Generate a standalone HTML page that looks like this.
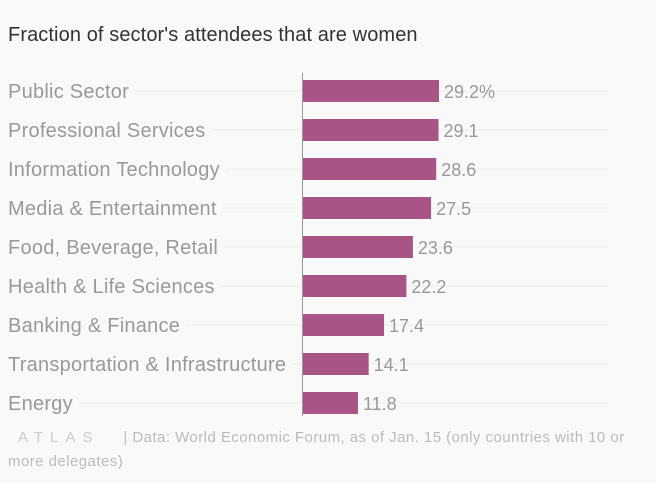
<!DOCTYPE html>
<html><head><meta charset="utf-8"><style>
body{margin:0;background:#f9f9f9;font-family:"Liberation Sans",sans-serif;}
#wrap{position:relative;width:656px;height:483px;overflow:hidden;background:#f9f9f9}
.title{position:absolute;left:8px;top:24px;font-size:20px;letter-spacing:0.1px;color:#333}
.foot{position:absolute;left:8px;top:426px;font-size:15px;color:#bbb;line-height:24px;width:640px;letter-spacing:0.45px;white-space:nowrap}
</style></head><body>
<div id="wrap">
<div class="title">Fraction of sector's attendees that are women</div>
<svg id="svg" width="656" height="483" style="position:absolute;left:0;top:0"></svg>
<div class="foot"><span style="letter-spacing:7px;color:#ccc;margin-left:10px;margin-right:24px">ATLAS</span>| Data: World Economic Forum, as of Jan. 15 (only countries with 10 or<br>more delegates)</div>
</div>
<script>
const categories=["Public Sector","Professional Services","Information Technology","Media & Entertainment","Food, Beverage, Retail","Health & Life Sciences","Banking & Finance","Transportation & Infrastructure","Energy"];
const values=[29.2,29.1,28.6,27.5,23.6,22.2,17.4,14.1,11.8];
const valueLabels=["29.2%","29.1","28.6","27.5","23.6","22.2","17.4","14.1","11.8"];
const svg=document.getElementById('svg');const NS="http://www.w3.org/2000/svg";
const x0=303,scale=136/29.2,y0=91,step=39,bh=22;
function xs(v){return v*scale;}
function ys(i){return y0+i*step;}
function mk(t,a){const e=document.createElementNS(NS,t);for(const k in a)e.setAttribute(k,a[k]);svg.appendChild(e);return e;}
categories.forEach((c,i)=>{
 const y=ys(i);
 const g=mk('line',{x1:8,x2:608,y1:y,y2:y,stroke:'#ececec','stroke-width':1});
 
 
 const lb=mk('text',{x:8,y:y+7,'font-size':20,'letter-spacing':0.25,fill:'#999','font-family':'Liberation Sans, sans-serif'});
 lb.textContent=c;
 const bb=lb.getBBox();
 const bg=mk('rect',{x:bb.x-2,y:bb.y,width:bb.width+8,height:bb.height,fill:'#f9f9f9'});
 svg.insertBefore(bg,lb);
 
 
 const r=mk('rect',{x:x0,y:y-bh/2,width:xs(values[i]),height:bh,fill:'#a85585'});
 
 
 const vt=mk('text',{x:x0+xs(values[i])+5,y:y+7,'font-size':18,fill:'#999','font-family':'Liberation Sans, sans-serif'});
 vt.textContent=valueLabels[i];
 
 
});
const ax=mk('line',{x1:302.5,x2:302.5,y1:73,y2:416,stroke:'#999','stroke-width':1});


</script>
</body></html>
